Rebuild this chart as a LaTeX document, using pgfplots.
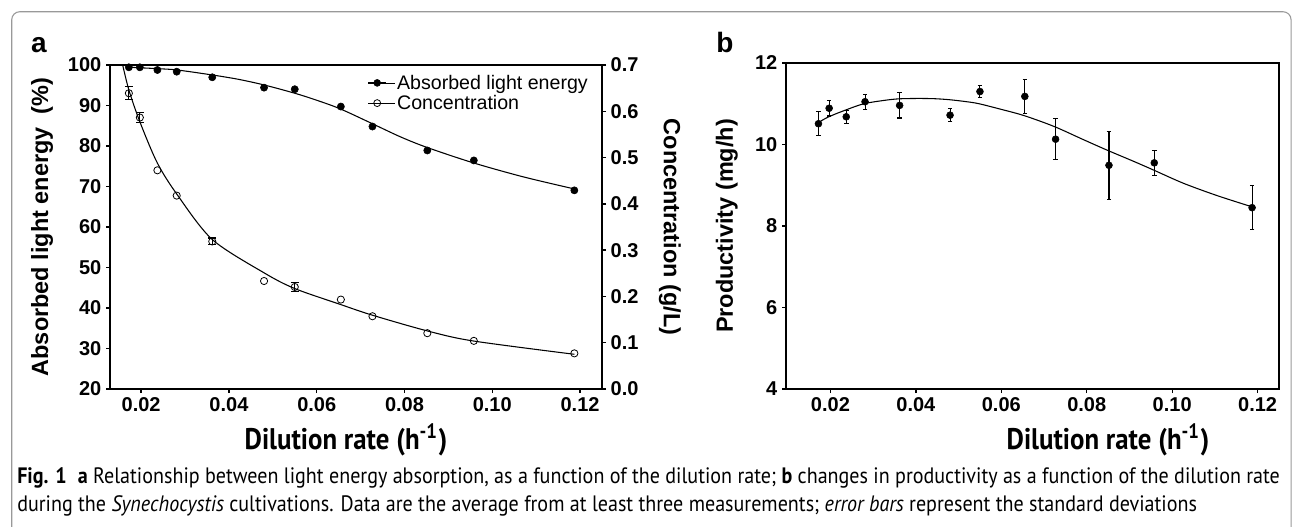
\documentclass[border=0pt]{standalone}
\usepackage{fontspec}
\setmainfont{Liberation Sans}
\newfontfamily\capfont{PT Sans}[FakeStretch=0.9]
\usepackage{graphicx}
\usepackage{pgfplots}
\pgfplotsset{compat=1.18}

% 1 px of the reference = 0.75pt
\pgfplotsset{
  base/.style={
    scale only axis,
    anchor=south west,
    tick align=outside,
    major tick length=3pt,
    every tick/.style={black, line width=1pt},
    axis line style={line width=1pt},
    /pgf/number format/assume math mode=true,
    ticklabel style={font=\fontsize{15}{18}\selectfont\bfseries},
    label style={font=\fontsize{17.6}{20}\selectfont\bfseries},
  },
  rate ticks/.style={
    xtick={0.02,0.04,0.06,0.08,0.10,0.12},
    xticklabel style={/pgf/number format/.cd, fixed, fixed zerofill, precision=2},
  },
}

\newsavebox\capA
\newsavebox\capB
\newdimen\capw

\begin{document}
\sbox\capA{\capfont\fontsize{14}{17}\selectfont\textbf{Fig. 1}\enspace\textbf{a} Relationship between light energy absorption, as a function of the dilution rate; \textbf{b} changes in productivity as a function of the dilution rate}%
\sbox\capB{\capfont\fontsize{14}{17}\selectfont during the \textit{Synechocystis} cultivations. Data are the average from at least three measurements; \textit{error bars} represent the standard deviations}%
\capw=\wd\capA
\pgfmathsetmacro\capscale{947/\capw}%
\begin{tikzpicture}
\useasboundingbox (0,0) rectangle (969.75pt,394.5pt);
\draw[gray!80, line width=0.8pt, rounded corners=6pt]
  (8.8pt,-20pt) -- (8.8pt,385.7pt) -- (968.3pt,385.7pt) -- (968.3pt,-20pt);

% ---------- panel a, left axis ----------
\begin{axis}[base, rate ticks,
  at={(82.5pt,102.75pt)}, width=369pt, height=243pt,
  xmin=0.0129, xmax=0.125, ymin=20, ymax=100,
  ytick={20,30,40,50,60,70,80,90,100},
  xtick pos=bottom, ytick pos=left,
  ylabel={Absorbed light energy\ \ (\%)},
  ylabel style={at={(axis description cs:-0.138,0.5)}, anchor=center},
  legend style={at={(axis description cs:0.515,0.985)}, anchor=north west,
    draw=none, fill=none, font=\fontsize{14.7}{17}\selectfont,
    row sep=0pt, nodes={inner sep=1.5pt}},
  legend cell align=left,
]
\addplot[black, line width=0.8pt, smooth, forget plot] coordinates {
  (0.0172,99.45) (0.0237,99.10) (0.0282,98.77) (0.0362,97.54) (0.0420,96.50)
  (0.0480,95.08) (0.0550,93.03) (0.0600,91.30) (0.0653,89.20) (0.0725,85.60)
  (0.0790,82.30) (0.0850,79.70) (0.0955,75.90) (0.1070,72.40) (0.1187,69.40)
};
\addplot[only marks, mark=*, mark size=2.7pt, black, forget plot] coordinates {
  (0.0172,99.43) (0.0197,99.43) (0.0237,98.77) (0.0281,98.35) (0.0362,96.97)
  (0.0480,94.41) (0.0550,94.02) (0.0655,89.74) (0.0727,84.81) (0.0852,78.90)
  (0.0958,76.44) (0.1187,69.05)
};
\addlegendimage{legend image code/.code={
  \path (0pt,0pt) -- (20pt,0pt);
  \draw[black, line width=0.8pt] (0pt,0pt) -- (13.5pt,0pt);
  \draw[black, mark=*, mark size=2.6pt] plot coordinates {(6.75pt,0pt)};}}
\addlegendentry{Absorbed light energy}
\addlegendimage{legend image code/.code={
  \path (0pt,0pt) -- (20pt,0pt);
  \draw[black, line width=0.8pt] (0pt,0pt) -- (13.5pt,0pt);
  \draw[black, line width=0.6pt, mark=o, mark size=2.6pt] plot coordinates {(6.75pt,0pt)};}}
\addlegendentry{Concentration}
\end{axis}

% ---------- panel a, right axis ----------
\begin{axis}[base,
  at={(82.5pt,102.75pt)}, width=369pt, height=243pt,
  xmin=0.0129, xmax=0.125, ymin=0, ymax=0.7,
  axis x line=none, axis y line*=right,
  ytick={0,0.1,0.2,0.3,0.4,0.5,0.6,0.7},
  yticklabel style={/pgf/number format/.cd, fixed, fixed zerofill, precision=1},
  ylabel={Concentration (g/L)},
  ylabel style={at={(axis description cs:1.138,0.5)}, anchor=center, rotate=180},
]
\addplot[black, line width=0.8pt, smooth] coordinates {
  (0.0155,0.712) (0.0172,0.646) (0.0198,0.575) (0.0237,0.488) (0.0282,0.420)
  (0.0362,0.323) (0.0480,0.251) (0.0550,0.217) (0.0653,0.183) (0.0725,0.160)
  (0.0850,0.126) (0.0955,0.104) (0.1187,0.075)
};
\addplot[only marks, mark=o, mark size=2.7pt, black, mark options={line width=0.6pt}] coordinates {
  (0.0237,0.4725) (0.0281,0.4178) (0.0480,0.2333) (0.0655,0.1932)
  (0.0727,0.1572) (0.0852,0.1206) (0.0958,0.1040) (0.1187,0.0770)
};
\addplot[only marks, mark=o, mark size=2.7pt, black, mark options={line width=0.6pt},
  error bars/.cd, y dir=both, y explicit,
  error bar style={line width=0.8pt},
  error mark options={rotate=90, mark size=3pt, line width=0.8pt}] coordinates {
  (0.0172,0.6390) +- (0,0.0137)
  (0.0197,0.5865) +- (0,0.0115)
  (0.0362,0.3188) +- (0,0.0075)
  (0.0550,0.2204) +- (0,0.0097)
};
\end{axis}

% ---------- panel b ----------
\begin{axis}[base, rate ticks,
  at={(589.5pt,102.75pt)}, width=369.75pt, height=244.5pt,
  xmin=0.0096, xmax=0.125, ymin=4, ymax=12,
  ytick={4,6,8,10,12},
  xtick pos=bottom, ytick pos=left,
  ylabel={Productivity (mg/h)},
  ylabel style={at={(axis description cs:-0.12,0.5)}, anchor=center},
]
\addplot[black, line width=0.8pt, smooth] coordinates {
  (0.0172,10.54) (0.0195,10.675) (0.0234,10.84) (0.0278,11.00) (0.0324,11.08)
  (0.0359,11.12) (0.0402,11.13) (0.0441,11.125) (0.0478,11.10) (0.0519,11.05)
  (0.0548,11.00) (0.0597,10.87) (0.0653,10.71) (0.0723,10.445) (0.0792,10.12)
  (0.0848,9.86) (0.0909,9.59) (0.0955,9.38) (0.1026,9.05) (0.1104,8.75)
  (0.1184,8.48)
};
\addplot[only marks, mark=*, mark size=2.6pt, black,
  error bars/.cd, y dir=both, y explicit,
  error bar style={line width=0.8pt},
  error mark options={rotate=90, mark size=1.7pt, line width=0.8pt}] coordinates {
  (0.0172,10.51) +- (0,0.30)
  (0.0197,10.89) +- (0,0.19)
  (0.0237,10.68) +- (0,0.165)
  (0.0281,11.05) +- (0,0.18)
  (0.0362,10.96) +- (0,0.31)
  (0.0480,10.72) +- (0,0.155)
  (0.0550,11.30) +- (0,0.155)
  (0.0655,11.18) +- (0,0.41)
  (0.0727,10.13) +- (0,0.50)
  (0.0852,9.49) +- (0,0.84)
  (0.0958,9.55) +- (0,0.31)
  (0.1187,8.45) +- (0,0.545)
};
\end{axis}

% ---------- panel letters, x labels, caption ----------
\node[anchor=base, inner sep=0pt, font=\fontsize{21}{24}\selectfont\bfseries] at (29.25pt,354.75pt) {a};
\node[anchor=base, inner sep=0pt, font=\fontsize{21}{24}\selectfont\bfseries] at (543.75pt,354.75pt) {b};
\node[inner sep=0pt] at (259.5pt,64.5pt)
  {\resizebox{152pt}{!}{\capfont\bfseries Dilution rate (h\textsuperscript{-1})}};
\node[inner sep=0pt] at (831pt,64.5pt)
  {\resizebox{152pt}{!}{\capfont\bfseries Dilution rate (h\textsuperscript{-1})}};
\node[anchor=base west, inner sep=0pt] at (12.75pt,32pt) {\scalebox{\capscale}{\usebox\capA}};
\node[anchor=base west, inner sep=0pt] at (12.75pt,11pt) {\scalebox{\capscale}{\usebox\capB}};
\end{tikzpicture}
\end{document}
